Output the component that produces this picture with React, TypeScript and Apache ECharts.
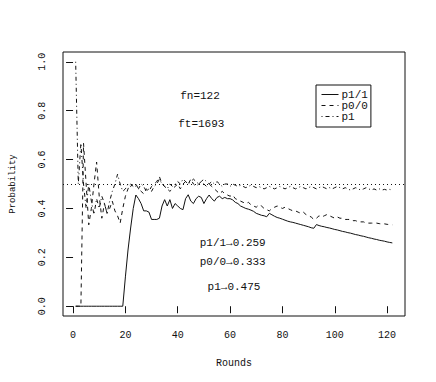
import React, { useEffect, useRef } from "react";
import * as echarts from "echarts";

const seriesNames = ["p1/1", "p0/0", "p1"];

const p11: number[] = [
  0, 0, 0, 0, 0, 0, 0, 0, 0, 0,
  0, 0, 0, 0, 0, 0, 0, 0, 0, 0.12,
  0.23, 0.32, 0.4, 0.455, 0.44, 0.42, 0.39, 0.39, 0.385, 0.355,
  0.355, 0.355, 0.36, 0.41, 0.436, 0.41, 0.436, 0.4, 0.42, 0.41,
  0.4, 0.395, 0.44, 0.456, 0.43, 0.42, 0.44, 0.45, 0.445, 0.42,
  0.44, 0.455, 0.44, 0.43, 0.445, 0.45, 0.44, 0.445, 0.44, 0.44,
  0.435, 0.425, 0.42, 0.41, 0.405, 0.4, 0.397, 0.393, 0.388, 0.38,
  0.376, 0.372, 0.37, 0.366, 0.38, 0.374, 0.368, 0.363, 0.36, 0.356,
  0.352, 0.348, 0.345, 0.343, 0.34, 0.337, 0.334, 0.331, 0.328, 0.325,
  0.321, 0.319, 0.334, 0.33, 0.327, 0.325, 0.322, 0.32, 0.317, 0.314,
  0.312, 0.309, 0.306, 0.304, 0.301, 0.299, 0.296, 0.293, 0.291, 0.288,
  0.286, 0.283, 0.28, 0.278, 0.275, 0.273, 0.27, 0.268, 0.266, 0.263,
  0.261, 0.259,
];

const p00: number[] = [
  0, 0, 0, 0.667, 0.5, 0.333, 0.4, 0.5, 0.59, 0.45,
  0.36, 0.42, 0.38, 0.4, 0.43, 0.39, 0.37, 0.34, 0.4, 0.45,
  0.48, 0.5, 0.49, 0.5, 0.48, 0.47, 0.46, 0.48, 0.47, 0.49,
  0.5, 0.51, 0.53, 0.5, 0.49, 0.48, 0.47, 0.48, 0.49, 0.5,
  0.48, 0.5, 0.51, 0.5, 0.52, 0.5, 0.49, 0.5, 0.51, 0.5,
  0.49, 0.5, 0.49, 0.48, 0.47, 0.46, 0.47, 0.46, 0.455, 0.45,
  0.455, 0.44, 0.435, 0.43, 0.425, 0.42, 0.425, 0.415, 0.41, 0.405,
  0.415, 0.41, 0.4, 0.395, 0.39, 0.4, 0.405, 0.41, 0.405, 0.4,
  0.405, 0.4, 0.395, 0.39, 0.39, 0.385, 0.38, 0.385, 0.375, 0.37,
  0.365, 0.355, 0.36, 0.37, 0.365, 0.37, 0.375, 0.37, 0.365, 0.36,
  0.365, 0.36, 0.36, 0.355, 0.355, 0.355, 0.35, 0.35, 0.345, 0.345,
  0.345, 0.34, 0.34, 0.34, 0.34, 0.34, 0.338, 0.336, 0.337, 0.335,
  0.334, 0.333,
];

const p1: number[] = [
  1.0, 0.5, 0.667, 0.5, 0.4, 0.5, 0.43, 0.375, 0.44, 0.4,
  0.45, 0.42, 0.38, 0.43, 0.47, 0.5, 0.54, 0.5, 0.47, 0.48,
  0.5, 0.49, 0.5, 0.49, 0.48, 0.5, 0.49, 0.47, 0.48, 0.47,
  0.49, 0.5, 0.52, 0.5, 0.49, 0.48, 0.5, 0.49, 0.5, 0.51,
  0.5, 0.52, 0.51, 0.5, 0.51, 0.52, 0.51, 0.5, 0.51, 0.52,
  0.51, 0.5, 0.51, 0.5, 0.51, 0.5, 0.49, 0.5, 0.5, 0.49,
  0.5, 0.495, 0.49, 0.495, 0.49, 0.485, 0.49, 0.495, 0.49, 0.485,
  0.49, 0.485, 0.48, 0.485, 0.49, 0.485, 0.48, 0.485, 0.49, 0.485,
  0.48, 0.485, 0.49, 0.485, 0.48, 0.485, 0.49, 0.485, 0.48, 0.485,
  0.49, 0.485, 0.48, 0.485, 0.49, 0.485, 0.48, 0.485, 0.48, 0.485,
  0.49, 0.485, 0.48, 0.485, 0.48, 0.475, 0.48, 0.485, 0.48, 0.475,
  0.48, 0.485, 0.48, 0.475, 0.48, 0.475, 0.48, 0.475, 0.478, 0.475,
  0.478, 0.475,
];

const xTicks = [0, 20, 40, 60, 80, 100, 120];
const yTicks = [0, 0.2, 0.4, 0.6, 0.8, 1.0];
const refLevel = 0.5;

const annoTexts = ["fn=122", "ft=1693", "p1/1\u21920.259", "p0/0\u21920.333", "p1\u21920.475"];
const annoX = [48.5, 49, 61, 61, 61.5];
const annoY = [0.86, 0.745, 0.26, 0.18, 0.08];

const FONT = "'Liberation Mono', 'DejaVu Sans Mono', monospace";
const INK = "#111";

function toPairs(v: number[]) {
  return v.map((y, i) => [i + 1, y]);
}

export default function App() {
  const ref = useRef<HTMLDivElement>(null);
  useEffect(() => {
    if (!ref.current) return;
    const chart = echarts.init(ref.current, null, { renderer: "svg" });
    const lineTypes: any[] = ["solid", [4, 4], [1, 3, 4, 3]];
    const values = [p11, p00, p1];
    const option: any = {
      animation: false,
      backgroundColor: "#fff",
      grid: {
        left: 60,
        right: 31,
        top: 52,
        bottom: 66,
        show: true,
        borderColor: INK,
        borderWidth: 1,
        backgroundColor: "transparent",
      },
      legend: {
        data: seriesNames,
        orient: "vertical",
        left: 316,
        top: 85,
        padding: [4, 3, 5, 5],
        itemGap: 0,
        itemWidth: 17,
        itemHeight: 10,
        borderColor: INK,
        borderWidth: 1,
        itemStyle: { opacity: 0, color: "transparent", borderWidth: 0 },
        lineStyle: { width: 1, color: INK },
        textStyle: { fontFamily: FONT, fontSize: 11, color: INK, padding: [0, 0, 0, -2] },
        inactiveColor: "#999",
      },
      xAxis: {
        type: "value",
        min: -3.84,
        max: 126.84,
        name: "Rounds",
        nameLocation: "middle",
        nameGap: 42,
        nameTextStyle: { fontFamily: FONT, fontSize: 10, color: INK },
        axisLine: { show: false },
        axisTick: { show: true, length: 7, inside: false, customValues: xTicks, lineStyle: { color: INK } },
        axisLabel: { customValues: xTicks, margin: 14, fontFamily: FONT, fontSize: 10, color: INK },
        splitLine: { show: false },
      },
      yAxis: {
        type: "value",
        min: -0.04,
        max: 1.04,
        name: "Probability",
        nameLocation: "middle",
        nameGap: 46,
        nameRotate: 90,
        nameTextStyle: { fontFamily: FONT, fontSize: 9, color: INK },
        axisLine: { show: false },
        axisTick: { show: true, length: 7, inside: false, customValues: yTicks, lineStyle: { color: INK } },
        axisLabel: {
          customValues: yTicks,
          rotate: 90,
          margin: 16,
          fontFamily: FONT,
          fontSize: 10,
          color: INK,
          formatter: (v: number) => v.toFixed(1),
        },
        splitLine: { show: false },
      },
      series: seriesNames.map((name, i) => ({
        name,
        type: "line",
        data: toPairs(values[i]),
        symbol: "none",
        showSymbol: false,
        color: INK,
        lineStyle: { color: INK, width: 1, type: lineTypes[i] },
        emphasis: { disabled: true },
        markLine:
          i === 0
            ? {
                silent: true,
                symbol: "none",
                label: { show: false },
                lineStyle: { color: INK, width: 1, type: [1, 3] },
                data: [{ yAxis: refLevel }],
              }
            : undefined,
      })),
    };
    chart.setOption(option);
    const graphics = annoTexts.map((t, i) => {
      const [px, py] = chart.convertToPixel({ gridIndex: 0 }, [annoX[i], annoY[i]]) as number[];
      return {
        type: "text",
        x: px,
        y: py,
        style: {
          text: t,
          fontFamily: FONT,
          fontSize: 11,
          fill: INK,
          textAlign: "center",
          textVerticalAlign: "middle",
        },
      };
    });
    chart.setOption({ graphic: graphics });
    return () => chart.dispose();
  }, []);
  return <div ref={ref} style={{ width: 436, height: 382, position: "absolute", left: 0, top: 0 }} />;
}
